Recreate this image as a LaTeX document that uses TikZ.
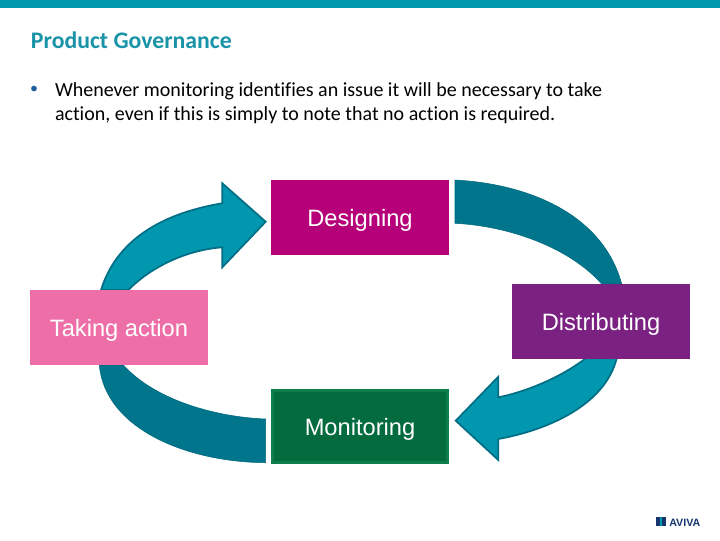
\documentclass[tikz,border=0pt]{standalone}
\usepackage{fontspec}
\setmainfont[Ligatures=NoCommon]{Carlito}
\newfontfamily\arialfont{Liberation Sans}
\definecolor{barteal}{HTML}{0099AE}
\definecolor{titleteal}{HTML}{1893A8}
\definecolor{arrowlight}{HTML}{0097AF}
\definecolor{arrowedge}{HTML}{006F85}
\definecolor{arrowdark}{HTML}{00758B}
\definecolor{magentabox}{HTML}{B5007A}
\definecolor{pinkbox}{HTML}{EE6FA8}
\definecolor{purplebox}{HTML}{7A2182}
\definecolor{greenbox}{HTML}{036B3E}
\definecolor{greenedge}{HTML}{0E7F4C}
\definecolor{bulletblue}{HTML}{1F5FA0}
\definecolor{logonavy}{HTML}{16356F}
\tikzset{
  x=0.75pt,y=-0.75pt,
  phase/.style={minimum width=133.5pt,minimum height=56.25pt,inner sep=0pt,outer sep=0pt,text=white,
    text height=17pt,text depth=3.5pt,
    font=\arialfont\fontsize{17.75pt}{20pt}\selectfont},
  arrowup/.style={fill=arrowlight,draw=arrowedge,line width=1.3pt,line join=miter},
  arrowdown/.style={fill=arrowdark,draw=arrowdark!90!black,line width=0.4pt},
  body/.style={anchor=base west,inner sep=0pt,outer sep=0pt,font=\fontsize{15pt}{18pt}\selectfont}
}
\begin{document}
\begin{tikzpicture}
\useasboundingbox (0,0) rectangle (720,540);
\fill[white] (0,0) rectangle (720,540);
\fill[barteal] (0,0) rectangle (720,8);
\node[body,text=titleteal,font=\fontsize{17.8pt}{20pt}\selectfont\bfseries] (title) at (31,48.5) {Product Governance};
\node[body,text=bulletblue,font=\fontsize{12pt}{14pt}\selectfont] (bullet) at (30,93.5) {•};
\node[body] (line1) at (55,96) {Whenever monitoring identifies an issue it will be necessary to take};
\node[body] (line2) at (55,120) {action, even if this is simply to note that no action is required.};
% block arrows
\draw[arrowup] (101,290) .. controls (118,235) and (170,212) .. (222.3,203.3) -- (222.3,183.3) -- (265.7,221.7) -- (222.3,267.3) -- (222.3,247.3) .. controls (185,250) and (150,268) .. (128.3,290) -- cycle;
\draw[arrowdown] (455,180) .. controls (530,184) and (603,215) .. (621.7,284) -- (601.7,284) .. controls (570,248) and (510,226) .. (455,223.3) -- cycle;
\draw[arrowup] (616.7,358.3) .. controls (605,405) and (548,430) .. (498.3,439) -- (498.3,460) -- (455.7,420.7) -- (498.3,376.7) -- (498.3,397.3) .. controls (525,392) and (560,378) .. (585.7,358.3) -- cycle;
\draw[arrowdown] (99.3,365) .. controls (105,428) and (185,462) .. (265.7,462.7) -- (265.7,419) .. controls (215,417) and (155,400) .. (123.3,365) -- cycle;
% boxes
\node[phase,fill=magentabox] (designing) at (360,217.5) {Designing};
\node[phase,fill=pinkbox] (taking) at (119,327.5) {Taking action};
\node[phase,fill=purplebox] (distributing) at (601,321.5) {Distributing};
\node[phase,fill=greenbox,draw=greenedge,line width=2.25pt,minimum width=131.25pt,minimum height=54pt] (monitoring) at (360,426.5) {Monitoring};
% logo
\fill[logonavy] (656,517) rectangle (666,526);
\fill[barteal] (659.5,517) rectangle (662,526);
\node[anchor=base west,inner sep=0pt,text=logonavy,font=\arialfont\bfseries\fontsize{8pt}{9pt}\selectfont] (logo) at (669,526) {AVIVA};
\end{tikzpicture}
\end{document}
